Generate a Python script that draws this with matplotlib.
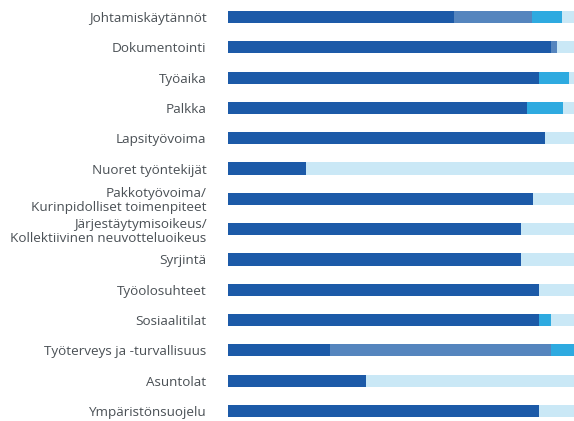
import matplotlib
matplotlib.use("Agg")
import matplotlib.pyplot as plt
import numpy as np

categories = [
    "Johtamiskäytännöt",
    "Dokumentointi",
    "Työaika",
    "Palkka",
    "Lapsityövoima",
    "Nuoret työntekijät",
    "Pakkotyövoima/\nKurinpidolliset toimenpiteet",
    "Järjestäytymisoikeus/\nKollektiivinen neuvotteluoikeus",
    "Syrjintä",
    "Työolosuhteet",
    "Sosiaalitilat",
    "Työterveys ja -turvallisuus",
    "Asuntolat",
    "Ympäristönsuojelu",
]

dark   = [65.4, 93.4, 89.9, 86.4, 91.6, 22.5, 88.2, 84.7, 84.7, 89.9, 89.9, 29.5, 39.9, 89.9]
medium = [22.5,  1.7,  0.0,  0.0,  0.0,  0.0,  0.0,  0.0,  0.0,  0.0,  0.0, 63.9,  0.0,  0.0]
bright = [ 8.6,  0.0,  8.7, 10.4,  0.0,  0.0,  0.0,  0.0,  0.0,  0.0,  3.5,  6.6,  0.0,  0.0]
light  = [ 3.5,  4.9,  1.4,  3.2,  8.4, 77.5, 11.8, 15.3, 15.3, 10.1,  6.6,  0.0, 60.1, 10.1]

series = [dark, medium, bright, light]
colors = ["#1c5aa8", "#5585be", "#2eaae0", "#cae8f6"]

plt.rcParams['font.family'] = ['Open Sans', 'DejaVu Sans']

fig = plt.figure(figsize=(5.74, 4.21), dpi=100)
ax = fig.add_axes([228/574, 0, 346/574, 419/421])

y = np.arange(len(categories))
left = np.zeros(len(categories))
for vals, c in zip(series, colors):
    v = np.array(vals)
    ax.barh(y, v, left=left, height=0.4, color=c, linewidth=0)
    left += v

ax.set_xlim(0, 100)
ax.set_ylim(13.33, -0.495)
ax.set_yticks(y)
ax.set_yticklabels(categories, fontsize=9.7, color="#4a5055", linespacing=1.1)
ax.tick_params(axis='y', length=0, pad=15.5)
ax.set_xticks([])
for s in ax.spines.values():
    s.set_visible(False)

fig.savefig("out.png", dpi=100)
